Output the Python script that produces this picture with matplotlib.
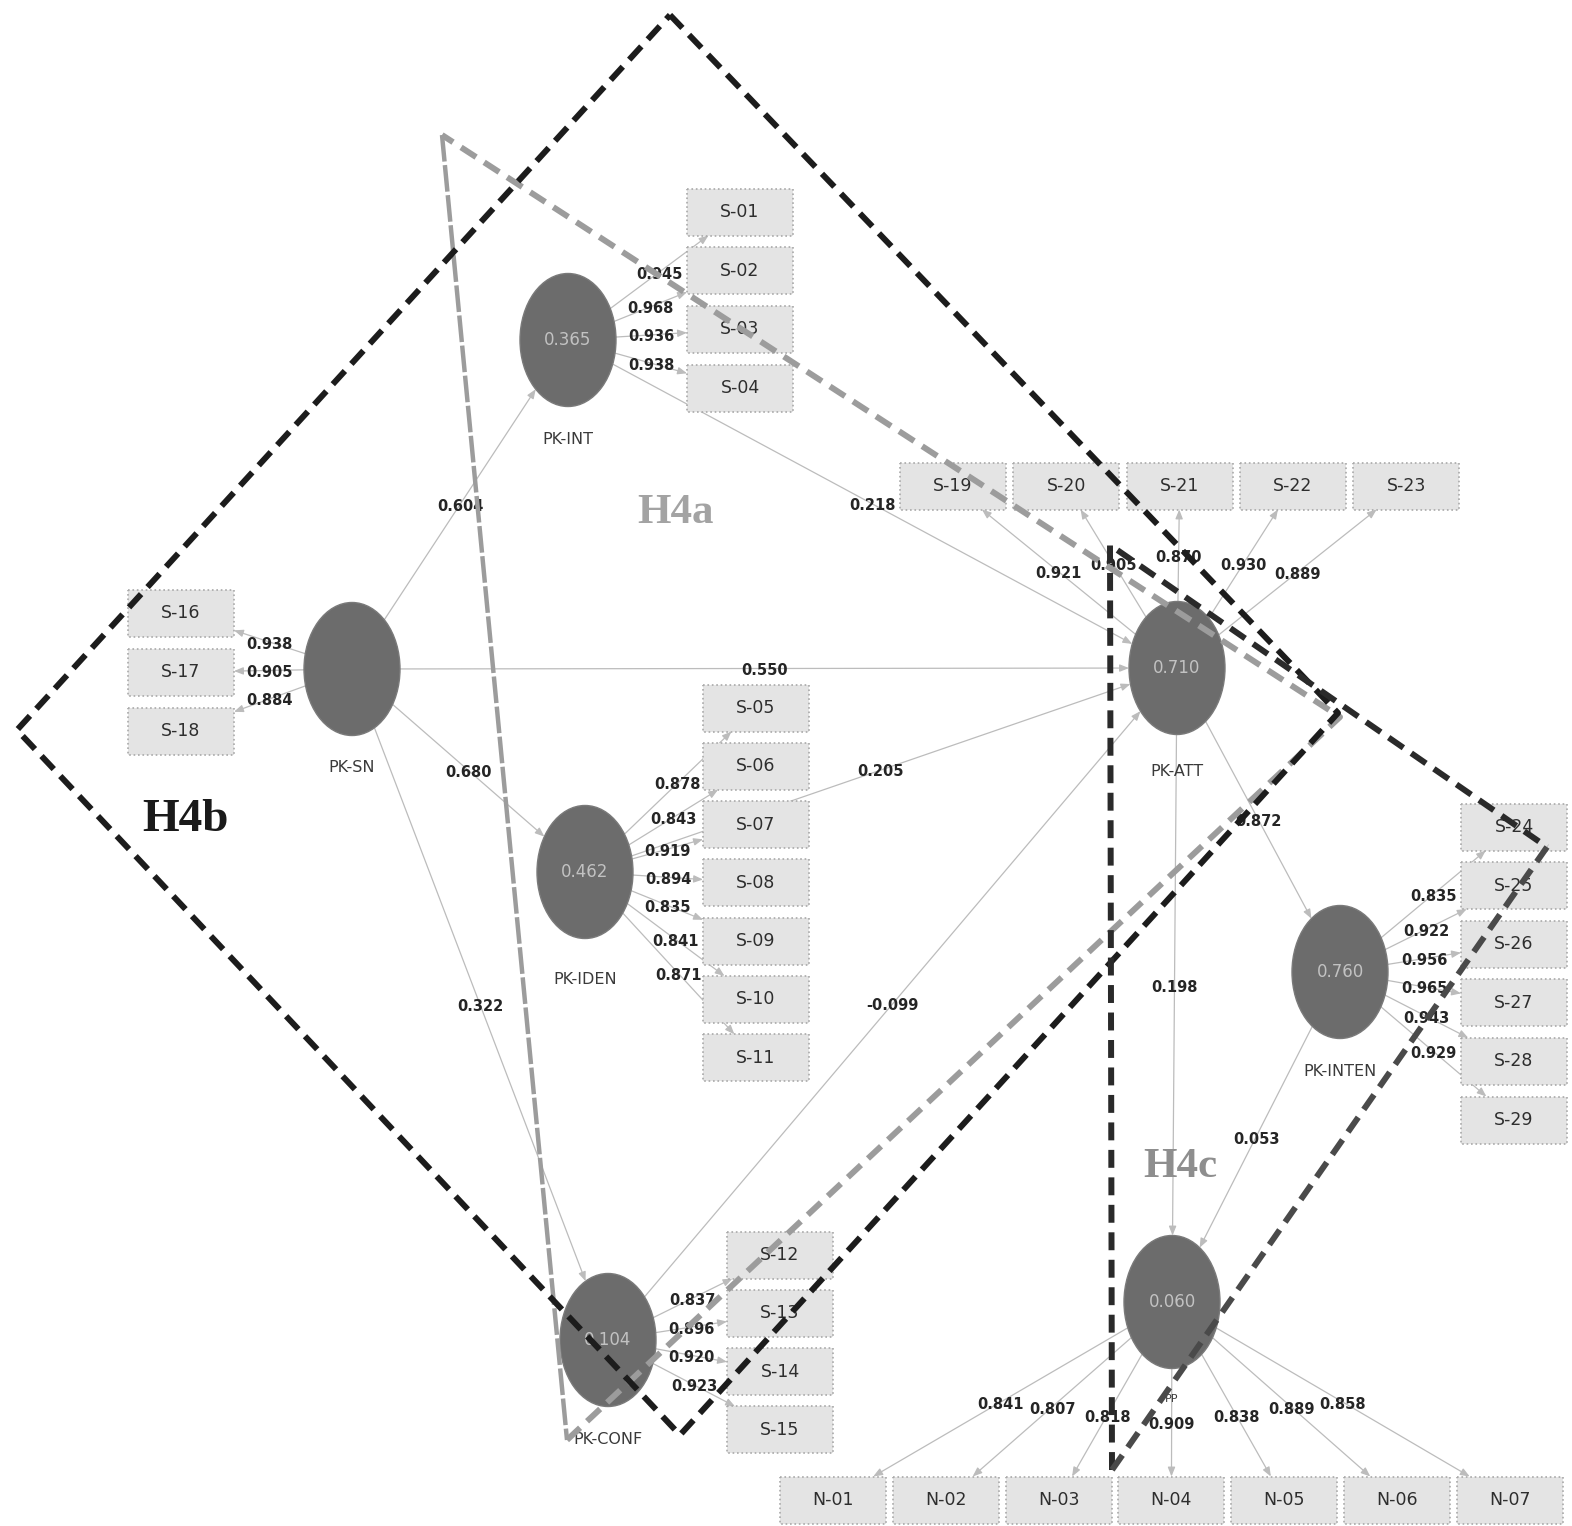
import matplotlib.pyplot as plt
from matplotlib.patches import Ellipse, Rectangle
import numpy as np

# latent constructs with their R-squared (PK-SN is exogenous)
constructs = ['PK-INT', 'PK-SN', 'PK-IDEN', 'PK-CONF', 'PK-ATT', 'PK-INTEN', 'PP']
r_squared = ['0.365', '', '0.462', '0.104', '0.710', '0.760', '0.060']

# indicators and outer loadings
int_items = ['S-01', 'S-02', 'S-03', 'S-04']
int_loadings = [0.945, 0.968, 0.936, 0.938]
sn_items = ['S-16', 'S-17', 'S-18']
sn_loadings = [0.938, 0.905, 0.884]
iden_items = ['S-05', 'S-06', 'S-07', 'S-08', 'S-09', 'S-10', 'S-11']
iden_loadings = [0.878, 0.843, 0.919, 0.894, 0.835, 0.841, 0.871]
conf_items = ['S-12', 'S-13', 'S-14', 'S-15']
conf_loadings = [0.837, 0.896, 0.920, 0.923]
att_items = ['S-19', 'S-20', 'S-21', 'S-22', 'S-23']
att_loadings = [0.921, 0.905, 0.870, 0.930, 0.889]
inten_items = ['S-24', 'S-25', 'S-26', 'S-27', 'S-28', 'S-29']
inten_loadings = [0.835, 0.922, 0.956, 0.965, 0.943, 0.929]
pp_items = ['N-01', 'N-02', 'N-03', 'N-04', 'N-05', 'N-06', 'N-07']
pp_loadings = [0.841, 0.807, 0.818, 0.909, 0.838, 0.889, 0.858]

# inner model
path_from = ['PK-SN', 'PK-INT', 'PK-SN', 'PK-SN', 'PK-IDEN', 'PK-SN', 'PK-CONF', 'PK-ATT', 'PK-ATT', 'PK-INTEN']
path_to = ['PK-INT', 'PK-ATT', 'PK-ATT', 'PK-IDEN', 'PK-ATT', 'PK-CONF', 'PK-ATT', 'PK-INTEN', 'PP', 'PP']
path_coef = ['0.604', '0.218', '0.550', '0.680', '0.205', '0.322', '-0.099', '0.872', '0.198', '0.053']

items = {'PK-INT': (int_items, int_loadings), 'PK-SN': (sn_items, sn_loadings),
         'PK-IDEN': (iden_items, iden_loadings), 'PK-CONF': (conf_items, conf_loadings),
         'PK-ATT': (att_items, att_loadings), 'PK-INTEN': (inten_items, inten_loadings),
         'PP': (pp_items, pp_loadings)}

# layout in pixel space: node centre, first indicator box centre, step between boxes, label offset
layout = {
    'PK-INT': ((568, 340), (740, 212), (0, 58.7), 100),
    'PK-SN': ((352, 669), (181, 613), (0, 59), 99),
    'PK-IDEN': ((585, 872), (756, 708), (0, 58.3), 108),
    'PK-CONF': ((608, 1340), (780, 1255), (0, 58.3), 100),
    'PK-ATT': ((1177, 668), (953, 486), (113.3, 0), 104),
    'PK-INTEN': ((1340, 972), (1514, 827), (0, 58.6), 100),
    'PP': ((1172, 1302), (833, 1500), (112.8, 0), 97),
}
EW, EH = 96, 133
BW, BH = 106, 47
LINE = '#bcbcbc'


def ellipse_edge(c, target):
    d = np.array(target, float) - np.array(c, float)
    t = 1.0 / np.sqrt((d[0] / (EW / 2)) ** 2 + (d[1] / (EH / 2)) ** 2)
    return np.array(c, float) + t * d


def box_edge(c, source):
    d = np.array(source, float) - np.array(c, float)
    tx = (BW / 2) / abs(d[0]) if d[0] != 0 else np.inf
    ty = (BH / 2) / abs(d[1]) if d[1] != 0 else np.inf
    return np.array(c, float) + min(tx, ty) * d


def arrow(ax, start, end):
    ax.annotate('', xy=end, xytext=start,
                arrowprops=dict(arrowstyle='-|>,head_length=0.55,head_width=0.22',
                                color=LINE, lw=0.9, shrinkA=0, shrinkB=0), zorder=1)


fig = plt.figure(figsize=(15.72, 15.26), dpi=100)
ax = fig.add_axes([0, 0, 1, 1])
ax.set_xlim(0, 1572)
ax.set_ylim(1526, 0)
ax.axis('off')

# outer model: boxes + loadings
for name in constructs:
    c, first, step, _ = layout[name]
    names, loads = items[name]
    for i, (lab, val) in enumerate(zip(names, loads)):
        bc = (first[0] + i * step[0], first[1] + i * step[1])
        ax.add_patch(Rectangle((bc[0] - BW / 2, bc[1] - BH / 2), BW, BH, facecolor='#e4e4e4',
                               edgecolor='#a9a9a9', linestyle=':', lw=1.2, zorder=2))
        ax.text(bc[0], bc[1], lab, ha='center', va='center', fontsize=12.5, color='#2e2e2e', zorder=3)
        p0 = ellipse_edge(c, bc)
        p1 = box_edge(bc, c)
        arrow(ax, p0, p1)
        mid = (p0 + p1) / 2
        ax.text(mid[0], mid[1] + 2, f'{val:.3f}', ha='center', va='center', fontsize=10.5,
                fontweight='bold', color='#252525', zorder=4)

# inner model
for a, b, coef in zip(path_from, path_to, path_coef):
    ca, cb = layout[a][0], layout[b][0]
    arrow(ax, ellipse_edge(ca, cb), ellipse_edge(cb, ca))
    mx, my = (ca[0] + cb[0]) / 2, (ca[1] + cb[1]) / 2
    ax.text(mx, my + 2, coef, ha='center', va='center', fontsize=10.5,
            fontweight='bold', color='#252525', zorder=4)

# latent variables
for name, r2 in zip(constructs, r_squared):
    c, _, _, off = layout[name]
    ax.add_patch(Ellipse(c, EW, EH, facecolor='#6c6c6c', edgecolor='#7a7a7a', lw=1, zorder=3))
    ax.text(c[0], c[1], r2, ha='center', va='center', fontsize=12, color='#c2c2c2', zorder=4)
    ax.text(c[0], c[1] + off, name, ha='center', va='center',
            fontsize=8 if name == 'PP' else 11.5, color='#3a3a3a', zorder=4)

# hypothesis outlines
h4b_x = [670, 1338, 680, 17, 670]
h4b_y = [15, 713, 1435, 730, 15]
ax.plot(h4b_x, h4b_y, color='#1c1c1c', lw=4.3, linestyle=(0, (3, 1.6)),
        solid_joinstyle='miter', zorder=6)

h4a_x = [567, 1340, 442]
h4a_y = [1440, 717, 135]
ax.plot(h4a_x, h4a_y, color='#9c9c9c', lw=4.3, linestyle=(0, (3, 1.6)), zorder=5)
ax.plot([442, 567], [135, 1440], color='#9c9c9c', lw=3.2, linestyle=(0, (6, 0.8)), zorder=5)

ax.plot([1112, 1110, 1547], [1470, 545, 847], color='#2a2a2a', lw=4.3,
        linestyle=(0, (3, 1.6)), zorder=6)
ax.plot([1547, 1112], [847, 1470], color='#4a4a4a', lw=4.3,
        linestyle=(0, (3, 1.6)), zorder=6)

serif = ['Liberation Serif', 'DejaVu Serif']
ax.text(676, 513, 'H4a', ha='center', va='center', fontsize=31, fontweight='bold',
        color='#a3a3a3', family=serif, zorder=7)
ax.text(185, 820, 'H4b', ha='center', va='center', fontsize=34, fontweight='bold',
        color='#1a1a1a', family=serif, zorder=7)
ax.text(1180, 1167, 'H4c', ha='center', va='center', fontsize=31, fontweight='bold',
        color='#8e8e8e', family=serif, zorder=7)

fig.savefig('out.png', dpi=100)
